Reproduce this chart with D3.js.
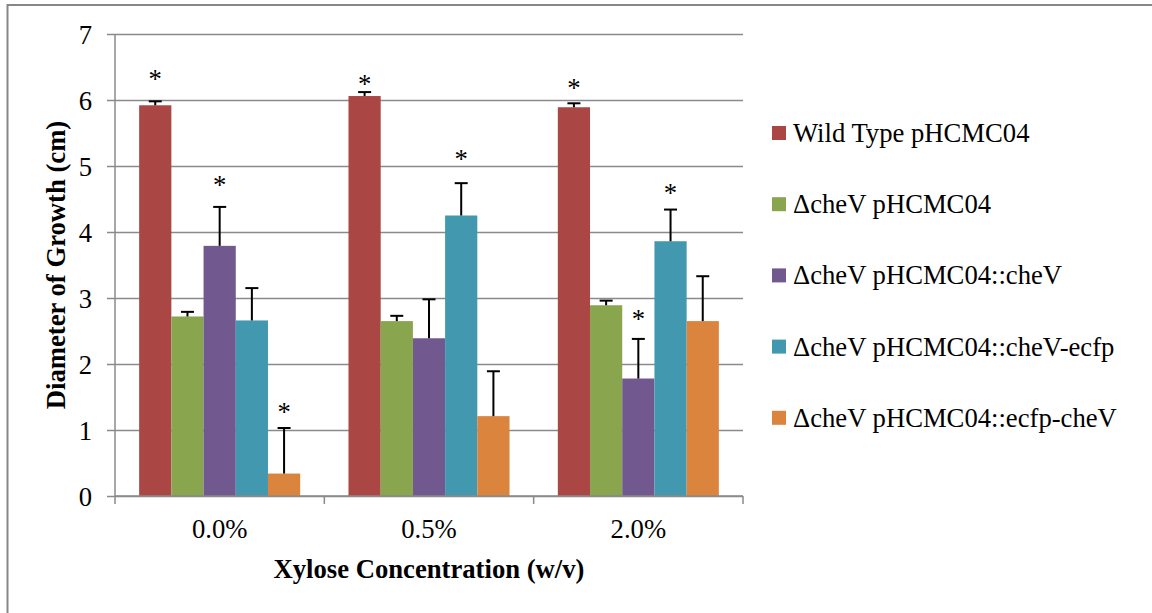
<!DOCTYPE html>
<html>
<head>
<meta charset="utf-8">
<script src="https://cdn.jsdelivr.net/npm/d3@7/dist/d3.min.js"></script>
<style>
  html, body { margin: 0; padding: 0; background: #fff; }
  svg { display: block; }
</style>
</head>
<body>
<svg id="chart" width="1152" height="613"></svg>
<script>
// ---- data ----
const categories = ["0.0%", "0.5%", "2.0%"];
const seriesNames = [
  "Wild Type pHCMC04",
  "\u0394cheV pHCMC04",
  "\u0394cheV pHCMC04::cheV",
  "\u0394cheV pHCMC04::cheV-ecfp",
  "\u0394cheV pHCMC04::ecfp-cheV"
];
const seriesColors = ["#AA4643", "#89A54E", "#71588F", "#4198AF", "#DB843D"];
const wildType     = [5.92, 6.06, 5.89];
const cheV         = [2.72, 2.65, 2.89];
const cheVComp     = [3.79, 2.39, 1.78];
const cheVEcfp     = [2.66, 4.25, 3.86];
const ecfpCheV     = [0.34, 1.21, 2.65];
const errWildType  = [0.06, 0.06, 0.06];
const errCheV      = [0.07, 0.08, 0.07];
const errCheVComp  = [0.59, 0.59, 0.60];
const errCheVEcfp  = [0.49, 0.49, 0.48];
const errEcfpCheV  = [0.69, 0.68, 0.68];
// significance asterisks: [categoryIndex, seriesIndex, value at which the * sits]
const asterisks = [
  [0, 0, 6.37], [0, 2, 4.76], [0, 4, 1.32],
  [1, 0, 6.30], [1, 3, 5.16],
  [2, 0, 6.24], [2, 2, 2.73], [2, 3, 4.64]
];
const yTicks = [0, 1, 2, 3, 4, 5, 6, 7];
const yTitle = "Diameter of Growth (cm)";
const xTitle = "Xylose Concentration (w/v)";

const values = [wildType, cheV, cheVComp, cheVEcfp, ecfpCheV];
const errors = [errWildType, errCheV, errCheVComp, errCheVEcfp, errEcfpCheV];

// ---- layout ----
const FONT = "'Liberation Serif', 'Times New Roman', Times, serif";
const FS = 26.67;
const svg = d3.select("#chart").style("font-family", FONT);
const pL = 115, pR = 743, pT = 34, pB = 496;
const gridColor = "#8a8a8a";

// outer border
svg.append("rect").attr("x", 7.5).attr("y", 5).attr("width", 1160).attr("height", 620)
  .attr("fill", "none").attr("stroke", "#878787").attr("stroke-width", 2);

const y = d3.scaleLinear().domain([0, 7]).range([pB, pT]);
const x0 = d3.scaleBand().domain(categories).range([pL, pR]).padding(0);
const x1 = d3.scaleBand().domain(d3.range(seriesNames.length))
  .range([0, x0.bandwidth()]).paddingInner(0).paddingOuter(0.75);

// gridlines + y ticks
const yAxis = d3.axisLeft(y).tickValues(yTicks).tickSize(-(pR - pL)).tickSizeOuter(0)
  .tickFormat(d3.format("d"));
const gy = svg.append("g").attr("transform", `translate(${pL},0)`).call(yAxis)
  .attr("font-family", FONT);
gy.select(".domain").remove();
gy.selectAll(".tick line").attr("stroke", gridColor).attr("stroke-width", 1.5)
  .attr("x1", -8);
gy.selectAll(".tick text").attr("x", -23).attr("font-size", FS)
  .attr("font-family", FONT).attr("fill", "#000").attr("dy", "0.34em");

// y axis line
svg.append("line").attr("x1", pL).attr("x2", pL).attr("y1", pT).attr("y2", pB)
  .attr("stroke", gridColor).attr("stroke-width", 1.5);

// bars
const groups = svg.append("g").selectAll("g").data(categories).join("g")
  .attr("transform", d => `translate(${x0(d)},0)`);
groups.each(function(cat, ci) {
  const g = d3.select(this);
  seriesNames.forEach((s, si) => {
    const v = values[si][ci];
    g.append("rect")
      .attr("x", x1(si)).attr("width", x1.bandwidth())
      .attr("y", y(v)).attr("height", y(0) - y(v))
      .attr("fill", seriesColors[si]);
  });
});

// x axis line + ticks
const xAxisG = svg.append("g").attr("transform", `translate(0,${pB})`);
xAxisG.append("line").attr("x1", pL).attr("x2", pR).attr("y1", 0).attr("y2", 0)
  .attr("stroke", gridColor).attr("stroke-width", 1.5);
const tickPos = categories.map(c => x0(c)).concat([x0(categories[categories.length - 1]) + x0.bandwidth()]);
xAxisG.selectAll("line.tk").data(tickPos).join("line").attr("class", "tk")
  .attr("x1", d => d).attr("x2", d => d).attr("y1", 0).attr("y2", 8)
  .attr("stroke", gridColor).attr("stroke-width", 1.5);
xAxisG.selectAll("text").data(categories).join("text")
  .attr("x", d => x0(d) + x0.bandwidth() / 2).attr("y", 42)
  .attr("text-anchor", "middle").attr("font-family", FONT).attr("font-size", FS)
  .attr("fill", "#000").text(d => d);

// error bars
const eg = svg.append("g");
categories.forEach((cat, ci) => {
  seriesNames.forEach((s, si) => {
    const cx = x0(cat) + x1(si) + x1.bandwidth() / 2;
    const v = values[si][ci], e = errors[si][ci];
    eg.append("line").attr("x1", cx).attr("x2", cx).attr("y1", y(v)).attr("y2", y(v + e))
      .attr("stroke", "#000").attr("stroke-width", 2);
    eg.append("line").attr("x1", cx - 6.5).attr("x2", cx + 6.5).attr("y1", y(v + e)).attr("y2", y(v + e))
      .attr("stroke", "#000").attr("stroke-width", 2);
  });
});

// asterisks
svg.append("g").selectAll("text").data(asterisks).join("text")
  .attr("x", d => x0(categories[d[0]]) + x1(d[1]) + x1.bandwidth() / 2)
  .attr("y", d => y(d[2]) + 12.5)
  .attr("text-anchor", "middle").attr("font-family", FONT).attr("font-size", FS)
  .attr("fill", "#000").text("*");

// axis titles
svg.append("text").attr("x", (pL + pR) / 2).attr("y", 578)
  .attr("text-anchor", "middle").attr("font-family", FONT).attr("font-size", FS)
  .attr("font-weight", "bold").attr("fill", "#000").text(xTitle);
svg.append("text").attr("transform", `translate(65,${(pT + pB) / 2}) rotate(-90)`)
  .attr("text-anchor", "middle").attr("font-family", FONT).attr("font-size", FS)
  .attr("font-weight", "bold").attr("fill", "#000").text(yTitle);

// legend
const legend = svg.append("g").selectAll("g").data(seriesNames).join("g")
  .attr("transform", (d, i) => `translate(772,${133 + i * 71.2})`);
legend.append("rect").attr("x", 0).attr("y", -7).attr("width", 14).attr("height", 14)
  .attr("fill", (d, i) => seriesColors[i]);
legend.append("text").attr("x", 21).attr("y", 0).attr("dy", "0.34em")
  .attr("font-family", FONT).attr("font-size", FS).attr("fill", "#000").text(d => d);
</script>
</body>
</html>
